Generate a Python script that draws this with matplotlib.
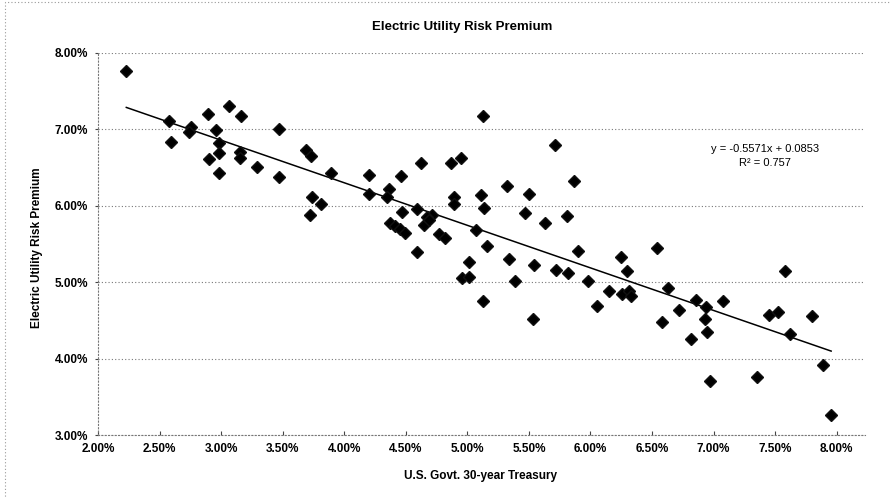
import matplotlib
matplotlib.use("Agg")
import matplotlib.pyplot as plt
import numpy as np
from matplotlib.patches import Rectangle
from matplotlib.ticker import FuncFormatter, MultipleLocator

plt.rcParams['font.family'] = ['Liberation Sans', 'DejaVu Sans']

# treasury yield (%) vs risk premium (%)
treasury = [2.23, 2.58, 2.59, 2.755, 2.74, 2.89, 2.96, 2.98, 2.98, 2.90, 2.98, 3.06,
            3.16, 3.15, 3.15, 3.29, 3.47, 3.47, 3.69, 3.73, 3.89, 3.74, 3.815, 3.72,
            5.13, 5.71, 4.20, 4.465, 4.62, 4.87, 4.95, 4.20, 4.36, 4.35, 4.47, 4.595,
            4.71, 4.67, 4.65, 4.69, 4.89, 4.89, 5.11, 5.135, 5.32, 5.50, 5.47, 5.87,
            5.81, 5.63, 4.37, 4.41, 4.45, 4.49, 4.59, 4.77, 4.82, 5.07, 5.16, 5.01,
            4.96, 5.01, 5.34, 5.54, 5.72, 5.82, 5.90, 5.39, 5.98, 5.13, 5.53,
            6.055, 6.15, 6.245, 6.30, 6.26, 6.31, 6.33, 6.54, 6.63, 6.58, 6.72,
            6.82, 6.86, 6.94, 6.93, 6.95, 7.08, 6.97, 7.35, 7.45, 7.52, 7.58,
            7.62, 7.80, 7.89, 7.955]
premium = [7.76, 7.11, 6.84, 7.03, 6.97, 7.20, 6.99, 6.82, 6.69, 6.61, 6.43, 7.31,
           7.17, 6.70, 6.63, 6.51, 7.00, 6.38, 6.73, 6.65, 6.43, 6.12, 6.03, 5.88,
           7.18, 6.80, 6.40, 6.39, 6.56, 6.56, 6.62, 6.16, 6.22, 6.11, 5.92, 5.96,
           5.88, 5.85, 5.75, 5.81, 6.12, 6.03, 6.14, 5.97, 6.26, 6.15, 5.91, 6.33,
           5.87, 5.77, 5.77, 5.73, 5.69, 5.64, 5.39, 5.63, 5.58, 5.68, 5.48, 5.26,
           5.06, 5.07, 5.30, 5.23, 5.16, 5.12, 5.41, 5.01, 5.01, 4.75, 4.52,
           4.69, 4.89, 5.33, 5.15, 4.85, 4.89, 4.82, 5.45, 4.93, 4.48, 4.64,
           4.25, 4.77, 4.67, 4.52, 4.35, 4.75, 3.71, 3.76, 4.57, 4.61, 5.15,
           4.32, 4.56, 3.92, 3.26]

# trendline as printed on the chart
slope = -0.5571
intercept = 0.0853
r_squared = 0.757

W, H = 891, 498
fig = plt.figure(figsize=(W / 100, H / 100), dpi=100)
ax = fig.add_axes([98 / W, 1 - 435 / H, (865 - 98) / W, (435 - 53) / H])

ax.plot(treasury, premium, linestyle='none', marker='D', ms=6,
        mfc='black', mec='#111111', zorder=3)

xs = np.array([min(treasury), max(treasury)])
ax.plot(xs, (intercept + slope * xs / 100) * 100, color='black', lw=1.1, zorder=2)

ax.set_xlim(2.0, 8.23)
ax.set_ylim(3.0, 8.0)
ax.xaxis.set_major_locator(MultipleLocator(0.5))
ax.yaxis.set_major_locator(MultipleLocator(1.0))
pct = FuncFormatter(lambda v, p: '%.2f%%' % v)
ax.xaxis.set_major_formatter(pct)
ax.yaxis.set_major_formatter(pct)

ax.grid(axis='y', color='#777777', linestyle=(0, (1, 2)), lw=0.8)
for s in ['top', 'right']:
    ax.spines[s].set_visible(False)
for s in ['left', 'bottom']:
    ax.spines[s].set_color('#777777')
    ax.spines[s].set_linestyle((0, (1, 2)))
    ax.spines[s].set_linewidth(0.8)

ax.tick_params(axis='x', direction='in', length=3, color='#444444', pad=6)
ax.tick_params(axis='y', direction='out', length=2, color='#444444', pad=5)
for lab in ax.get_xticklabels() + ax.get_yticklabels():
    lab.set_fontweight('bold')
    lab.set_fontsize(8.5)

fig.text(462 / W, 1 - 27 / H, 'Electric Utility Risk Premium', ha='center', va='center',
         fontsize=9.5, fontweight='bold')
fig.text(481 / W, 1 - 476 / H, 'U.S. Govt. 30-year Treasury', ha='center', va='center',
         fontsize=8.5, fontweight='bold')
fig.text(37 / W, 1 - 248 / H, 'Electric Utility Risk Premium', ha='center', va='center',
         rotation=90, fontsize=8.5, fontweight='bold')

fig.text(765 / W, 1 - 149 / H, 'y = -0.5571x + 0.0853', ha='center', va='center', fontsize=8)
fig.text(765 / W, 1 - 163 / H, 'R² = %.3f' % r_squared, ha='center', va='center', fontsize=8)

# dotted chart-area border
fig.patches.append(Rectangle((5 / W, -0.05), 1.2, 1 - 2 / H + 0.05, transform=fig.transFigure,
                             fill=False, ec='#999999', lw=0.8, ls=(0, (1, 2))))

fig.savefig('out.png', dpi=100)
